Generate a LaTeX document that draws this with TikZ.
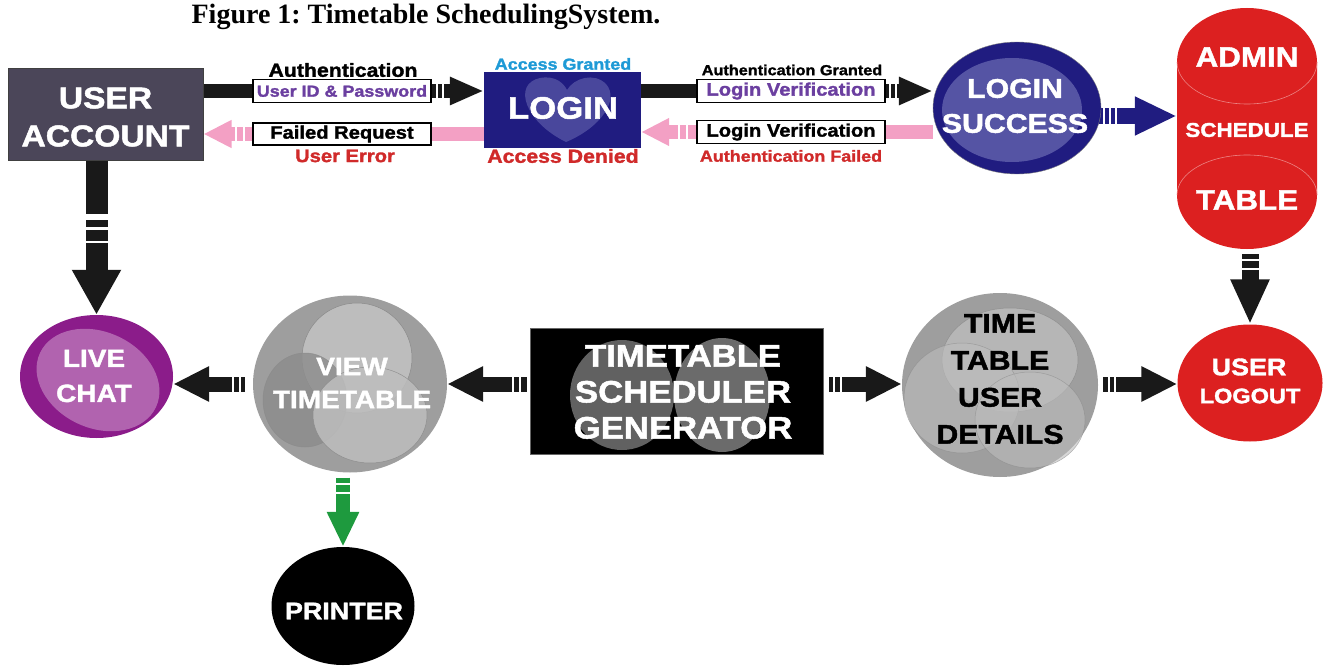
\documentclass[tikz,border=0pt]{standalone}
\usepackage{fontspec}
\setmainfont{Liberation Sans}
\newfontfamily\blk{Liberation Sans}[FakeStretch=1.12, FakeBold=1.6]
\newfontfamily\ttl{Liberation Serif}
\usetikzlibrary{arrows.meta,shapes.geometric,calc}
\pgfdeclarelayer{bg}
\pgfsetlayers{bg,main}
\frenchspacing
\newcommand\myfs[2]{\fontsize{#1}{#2}\selectfont}
\definecolor{uabox}{HTML}{4B4659}
\definecolor{navyc}{HTML}{201C80}
\definecolor{navyl}{HTML}{6C6CB4}
\definecolor{pinkc}{HTML}{F3A0C4}
\definecolor{redc}{HTML}{DC2020}
\definecolor{purpc}{HTML}{8B1C8A}
\definecolor{purpl}{HTML}{B870B6}
\definecolor{grayc}{HTML}{9E9E9E}
\definecolor{grayl}{HTML}{BDBDBD}
\definecolor{grayd}{HTML}{8A8A8A}
\definecolor{greenc}{HTML}{1E9A3E}
\definecolor{lblpurp}{HTML}{6B3FA0}
\definecolor{lblred}{HTML}{D02A2A}
\definecolor{lblblue}{HTML}{1E9AD6}
\tikzset{
  wt/.style={text=white, align=center, inner sep=0pt},
  bt/.style={text=black, align=center, inner sep=0pt},
  lblbox/.style={draw=black, line width=1.1pt, fill=white, inner sep=0pt, minimum height=23pt},
  shp/.style={inner sep=0pt},
  blackarrow/.style={draw=black!90, line width=14pt, -{Triangle[length=34pt,width=26pt]}},
  pinkarrow/.style={draw=pinkc, line width=14pt, -{Triangle[length=28pt,width=26pt]}},
  navyarrow/.style={draw=navyc, line width=16pt, -{Triangle[length=42pt,width=36pt]}},
  rowarrow/.style={draw=black!90, line width=15pt, -{Triangle[length=36pt,width=33pt]}},
  vbig/.style={draw=black!90, line width=22pt, -{Triangle[length=45pt,width=46pt]}},
  vmid/.style={draw=black!90, line width=17pt, -{Triangle[length=45pt,width=36pt]}},
  greenarrow/.style={draw=greenc, line width=14pt, -{Triangle[length=35pt,width=30pt]}},
  stripe/.style={draw=white, line width=2pt},
}
\begin{document}
\begin{tikzpicture}[x=1pt,y=-1pt]
\useasboundingbox (0,0) rectangle (1327,666);

% title
\node[font=\ttl\bfseries\myfs{28}{32}] (title) at (426,17) {Figure 1: Timetable SchedulingSystem.};

% USER ACCOUNT
\node[shp, rectangle, fill=uabox, draw=black!75, line width=1pt, minimum width=195pt, minimum height=91pt] (ua) at (105.5,114.5) {};
\node[wt, font=\blk\bfseries\myfs{30}{38}] (uat) at (105.5,117) {USER\\ACCOUNT};

% LOGIN
\node[shp, rectangle, fill=navyc, minimum width=157pt, minimum height=76pt] (login) at (562.5,110) {};
\fill[navyl, opacity=.55] (566,142) .. controls (525,122) and (512,84) .. (540,78)
   .. controls (556,75) and (564,84) .. (567,90) .. controls (574,78) and (594,72) .. (606,84)
   .. controls (620,100) and (600,128) .. (566,142) -- cycle;
\node[wt, font=\blk\bfseries\myfs{31}{36}] (logint) at (563,108) {LOGIN};

% LOGIN SUCCESS
\node[shp, ellipse, fill=navyc, draw=black!50, minimum width=168pt, minimum height=132pt] (ls) at (1017,108) {};
\fill[navyl, opacity=.7] (1012,110) ellipse [x radius=70, y radius=52];
\node[wt, font=\blk\bfseries\myfs{27}{35}] (lst) at (1015,106) {LOGIN\\SUCCESS};

% ADMIN SCHEDULE TABLE
\node[shp, rectangle, minimum width=140pt, minimum height=241pt] (admin) at (1247,128.5) {};
\fill[redc] (1177,62) arc[start angle=180, end angle=360, x radius=70, y radius=54]
   -- (1317,195) arc[start angle=0, end angle=180, x radius=70, y radius=54] -- cycle;
\draw[redc!55!white, line width=.6pt] (1177,62) arc[start angle=180, end angle=0, x radius=70, y radius=42];
\draw[redc!55!white, line width=.6pt] (1177,195) arc[start angle=180, end angle=360, x radius=70, y radius=40];
\node[wt, font=\blk\bfseries\myfs{28}{32}] (admint) at (1247,57) {ADMIN};
\node[wt, font=\blk\bfseries\myfs{20}{24}] (schedt) at (1247,130) {SCHEDULE};
\node[wt, font=\blk\bfseries\myfs{28}{32}] (tablet) at (1247,200) {TABLE};

% USER LOGOUT
\node[shp, ellipse, fill=redc, minimum width=145pt, minimum height=117pt] (logout) at (1250,383) {};
\node[wt, font=\blk\bfseries\myfs{24}{28}] (logout1) at (1249,367) {USER};
\node[wt, font=\blk\bfseries\myfs{21}{26}] (logout2) at (1250,396) {LOGOUT};

% TIME TABLE USER DETAILS
\node[shp, ellipse, fill=grayc, minimum width=196pt, minimum height=184pt] (ttud) at (1000,385) {};
\fill[grayl, opacity=.8, draw=grayd, line width=.5pt] (1010,360) ellipse [x radius=68, y radius=52];
\fill[grayl, opacity=.6, draw=grayd, line width=.5pt] (962,398) ellipse [x radius=58, y radius=55];
\fill[grayl, opacity=.6, draw=grayd, line width=.5pt] (1030,420) ellipse [x radius=55, y radius=48];
\node[bt, font=\blk\bfseries\myfs{27}{37}] (ttudt) at (1000,379) {TIME\\TABLE\\USER\\DETAILS};

% TIMETABLE SCHEDULER GENERATOR
\node[shp, rectangle, fill=black, draw=black!60, minimum width=293pt, minimum height=126pt] (gen) at (676.5,391) {};
\fill[black!62] (622,395) ellipse [x radius=52, y radius=55];
\fill[black!58] (722,395) ellipse [x radius=48, y radius=57];
\node[wt, font=\blk\bfseries\myfs{31}{36}] (gent) at (683,392) {TIMETABLE\\SCHEDULER\\GENERATOR};

% VIEW TIMETABLE
\node[shp, ellipse, fill=grayc, minimum width=194pt, minimum height=177pt] (view) at (350,384) {};
\fill[grayl, draw=grayd, line width=.5pt] (357,358) circle [radius=55];
\fill[black!45, opacity=.8, draw=grayd, line width=.5pt] (305,400) ellipse [x radius=42, y radius=47];
\fill[grayl, opacity=.85, draw=grayd, line width=.5pt] (370,415) ellipse [x radius=57, y radius=48];
\node[wt, font=\blk\bfseries\myfs{25}{33}] (viewt) at (352,383) {VIEW\\TIMETABLE};

% LIVE CHAT
\node[shp, ellipse, fill=purpc, minimum width=153pt, minimum height=123pt] (live) at (96.5,376.5) {};
\fill[purpl, opacity=.85, rotate around={-25:(98,380)}] (98,380) ellipse [x radius=64, y radius=48];
\node[wt, font=\blk\bfseries\myfs{25}{35}] (livet) at (94,376) {LIVE\\CHAT};

% PRINTER
\node[shp, ellipse, fill=black, minimum width=143pt, minimum height=118pt] (printer) at (343,606) {};
\node[wt, font=\blk\bfseries\myfs{24}{28}] (printert) at (344,611) {PRINTER};

% labels
\node[font=\blk\bfseries\myfs{19}{22}] (t1) at (343,70) {Authentication};
\node[lblbox, minimum width=178pt, text=lblpurp, font=\blk\bfseries\myfs{16}{20}] (b1) at (342,91) {User ID \& Password};
\node[lblbox, minimum width=178pt, minimum height=22pt, font=\blk\bfseries\myfs{18}{20}] (b2) at (342,134) {Failed Request};
\node[text=lblred, font=\blk\bfseries\myfs{18}{22}] (t2) at (345,156) {User Error};
\node[text=lblblue, font=\blk\bfseries\myfs{16}{20}] (t3) at (563,64) {Access Granted};
\node[text=lblred, font=\blk\bfseries\myfs{19}{22}] (t4) at (563,156) {Access Denied};
\node[font=\blk\bfseries\myfs{14.5}{18}] (t5) at (792,70) {Authentication Granted};
\node[lblbox, minimum width=188pt, text=lblpurp, font=\blk\bfseries\myfs{18}{20}] (b3) at (791,91) {Login Verification};
\node[lblbox, minimum width=188pt, font=\blk\bfseries\myfs{18}{20}] (b4) at (791,132) {Login Verification};
\node[text=lblred, font=\blk\bfseries\myfs{16}{20}] (t6) at (791,156) {Authentication Failed};

% connectors
\begin{pgfonlayer}{bg}
\draw[blackarrow] (ua.east |- b1) -- (login.west |- b1);
\draw[stripe] (437,83) -- (437,99);
\draw[stripe] (443,83) -- (443,99);
\draw[blackarrow] (login.east |- b3) -- (ls.west |- b3);
\draw[stripe] (890,83) -- (890,99);
\draw[stripe] (896,83) -- (896,99);
\draw[navyarrow] ($(ls.east)+(-3,8)$) -- (admin.west |- 0,116);
\draw[stripe] (1104,107) -- (1104,125);
\draw[stripe] (1110,107) -- (1110,125);
\draw[stripe] (1116,107) -- (1116,125);
\draw[pinkarrow] (login.west |- b2) -- (ua.east |- b2);
\draw[stripe] (236,126) -- (236,142);
\draw[stripe] (244,126) -- (244,142);
\draw[pinkarrow] (ls.west |- b4) -- (login.east |- b4);
\draw[stripe] (679,124) -- (679,140);
\draw[stripe] (687,124) -- (687,140);
\draw[vbig] (live.north |- ua.south) -- (live.north);
\draw[draw=white, line width=6pt] (83,217) -- (108,217);
\draw[draw=white, line width=3pt] (83,228.5) -- (108,228.5);
\draw[draw=white, line width=2pt] (83,242) -- (108,242);
\draw[vmid, shorten <=5pt] (logout.north |- admin.south) -- (logout.north);
\draw[draw=white, line width=2.5pt] (1240,260) -- (1260,260);
\draw[draw=white, line width=2.5pt] (1240,269) -- (1260,269);
\draw[greenarrow, shorten <=5pt] (printer.north |- view.south) -- (printer.north);
\draw[draw=white, line width=2pt] (335,484) -- (353,484);
\draw[draw=white, line width=2pt] (335,493) -- (353,493);
\draw[rowarrow, shorten <=3pt] (gen.west |- view.east) -- (view.east);
\draw[stripe] (513,375) -- (513,393);
\draw[stripe] (520,375) -- (520,393);
\draw[rowarrow, shorten <=8pt] (view.west) -- (live.east |- view.west);
\draw[stripe] (233,375) -- (233,393);
\draw[stripe] (240,375) -- (240,393);
\draw[rowarrow, shorten <=6pt] (gen.east |- view.east) -- (ttud.west |- view.east);
\draw[stripe] (834,375) -- (834,393);
\draw[stripe] (841,375) -- (841,393);
\draw[rowarrow, shorten <=5pt] (ttud.east |- view.east) -- (logout.west |- view.east);
\draw[stripe] (1109,375) -- (1109,393);
\draw[stripe] (1115,375) -- (1115,393);
\end{pgfonlayer}
\end{tikzpicture}
\end{document}
